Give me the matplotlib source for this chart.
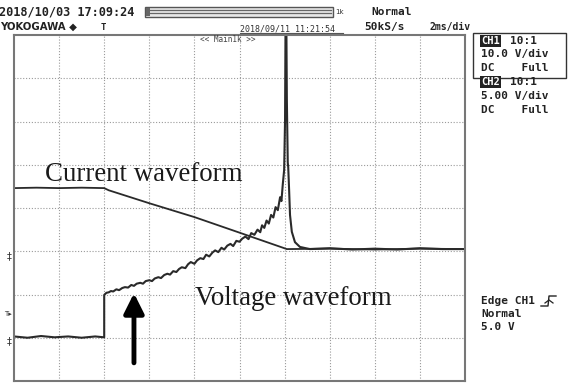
import numpy as np
import matplotlib
matplotlib.use('Agg')
import matplotlib.pyplot as plt
from matplotlib.patches import Rectangle

# ---- waveform data (x in divisions, y in divisions) ----
cur_x = [0.0, 0.5, 1.0, 1.5, 2.0, 2.1, 3.0, 4.0, 5.0, 6.05, 7.0, 8.0, 9.0, 10.0]
cur_y = [4.46, 4.47, 4.46, 4.47, 4.46, 4.41, 4.11, 3.79, 3.43, 3.05, 3.06, 3.04, 3.06, 3.05]

volt_x = [0.0, 0.3, 0.6, 0.9, 1.2, 1.5, 1.8, 2.0, 2.0, 2.05, 2.10, 2.15, 2.20, 2.27, 2.33,
          2.40, 2.46, 2.53, 2.60, 2.66, 2.72, 2.80, 2.86, 2.92, 3.00, 3.06, 3.12, 3.20,
          3.26, 3.33, 3.40, 3.46, 3.53, 3.60, 3.66, 3.72, 3.80, 3.86, 3.92, 4.00, 4.06,
          4.13, 4.20, 4.26, 4.33, 4.40, 4.46, 4.53, 4.60, 4.66, 4.73, 4.80, 4.86, 4.93,
          5.00, 5.06, 5.13, 5.20, 5.26, 5.33, 5.40, 5.46, 5.50, 5.55, 5.60, 5.65, 5.70,
          5.75, 5.80, 5.85, 5.90, 5.93, 5.96, 5.99, 6.01, 6.02, 6.04, 6.05, 6.07,
          6.08, 6.10, 6.12, 6.16, 6.23, 6.34, 6.56, 7.0, 7.5, 8.0, 8.5, 9.0, 9.5, 10.0]
volt_y = [1.03, 1.00, 1.04, 1.01, 1.03, 1.00, 1.03, 1.01, 1.99, 2.04, 2.05, 2.08, 2.07, 2.12, 2.10,
          2.15, 2.17, 2.16, 2.22, 2.20, 2.25, 2.27, 2.25, 2.31, 2.33, 2.31, 2.37, 2.40,
          2.38, 2.45, 2.48, 2.46, 2.54, 2.52, 2.59, 2.63, 2.61, 2.70, 2.75, 2.71, 2.79,
          2.84, 2.82, 2.92, 2.88, 2.97, 3.02, 2.98, 3.08, 3.04, 3.13, 3.17, 3.12, 3.24,
          3.22, 3.29, 3.34, 3.28, 3.42, 3.38, 3.50, 3.44, 3.60, 3.54, 3.71, 3.64, 3.84,
          3.78, 4.02, 3.95, 4.25, 4.16, 4.55, 4.88, 6.03, 8.10, 8.10, 6.50, 5.05,
          4.95, 4.42, 3.84, 3.45, 3.21, 3.10, 3.05, 3.07, 3.04, 3.06, 3.04, 3.07, 3.05, 3.05]

W, H = 574, 383
fig = plt.figure(figsize=(W / 100, H / 100), dpi=100)
fig.patch.set_facecolor('white')


def fx(x):
    return x / W


def fy(y):
    return 1 - y / H


# plot frame in pixels: left 14, right 465, top 35, bottom 381
ax = fig.add_axes([fx(14), fy(381), (465 - 14) / W, (381 - 35) / H])
ax.set_xlim(0, 10)
ax.set_ylim(0, 8)
ax.set_xticks(np.arange(1, 10))
ax.set_yticks(np.arange(1, 8))
ax.tick_params(length=0, labelbottom=False, labelleft=False)
ax.grid(True, color='#9a9a9a', linestyle=(0, (1, 1.6)), linewidth=0.8)
for s in ax.spines.values():
    s.set_color('#777777')
    s.set_linewidth(1.5)

ax.plot(cur_x, cur_y, color='#2a2a2a', lw=1.3)
ax.plot(volt_x, volt_y, color='#2a2a2a', lw=1.5)

fig.text(fx(45), fy(181), 'Current waveform', family='Liberation Serif',
         fontsize=19.4, color='#1a1a1a', va='baseline', ha='left')
fig.text(fx(195), fy(305), 'Voltage waveform', family='Liberation Serif',
         fontsize=19.4, color='#1a1a1a', va='baseline', ha='left')

ax.annotate('', xy=(2.66, 2.03), xytext=(2.66, 0.42),
            arrowprops=dict(arrowstyle='-|>,head_width=0.6,head_length=1.2',
                            lw=3.5, color='black', shrinkA=0, shrinkB=0))

mono = dict(family='DejaVu Sans Mono', weight='bold', color='#222222')

# header
fig.text(fx(-1), fy(12), '2018/10/03 17:09:24', fontsize=8.6, va='center', ha='left', **mono)
fig.text(fx(0), fy(27), 'YOKOGAWA \u25c6', fontsize=7.3, va='center', ha='left',
         family='DejaVu Sans', weight='bold', color='#222222')
fig.text(fx(101), fy(27), 'T', fontsize=6.5, va='center', ha='left', **mono)
fig.add_artist(Rectangle((fx(145), fy(17)), (333 - 145) / W, 10 / H, transform=fig.transFigure,
                         facecolor='#e8e8e8', edgecolor='#555555', lw=1.0))
for yy in (10, 13):
    fig.add_artist(plt.Line2D([fx(150), fx(331)], [fy(yy), fy(yy)], color='#666666', lw=0.9))
fig.add_artist(Rectangle((fx(146), fy(16)), 4 / W, 8 / H, transform=fig.transFigure,
                         facecolor='#666666', edgecolor='none'))
fig.text(fx(335), fy(12), '1k', fontsize=5, va='center', ha='left', family='DejaVu Sans', color='#333333')
fig.text(fx(371), fy(12), 'Normal', fontsize=8, va='center', ha='left', **mono)
fig.text(fx(364), fy(27), '50kS/s', fontsize=8, va='center', ha='left', **mono)
fig.text(fx(430), fy(27), '2ms/div', fontsize=7, va='center', ha='left', **mono)
fig.text(fx(240), fy(29), '2018/09/11 11:21:54', fontsize=6, va='center', ha='left',
         family='DejaVu Sans Mono', color='#333333')
fig.add_artist(plt.Line2D([fx(240), fx(343)], [fy(33), fy(33)], color='#555555', lw=0.8))
fig.text(fx(200), fy(40), '<< Main1k >>', fontsize=5.5, va='center', ha='left',
         family='DejaVu Sans Mono', color='#444444')

# left markers
fig.text(fx(9), fy(256), '\u2021', fontsize=7, va='center', ha='center', family='DejaVu Sans', color='#333333')
fig.text(fx(8), fy(314), 'T\u25b8', fontsize=5, va='center', ha='center', family='DejaVu Sans', color='#333333')
fig.text(fx(9), fy(341), '\u2021', fontsize=7, va='center', ha='center', family='DejaVu Sans', color='#333333')

# right panel
fig.add_artist(Rectangle((fx(473), fy(78)), (566 - 473) / W, 45 / H, transform=fig.transFigure,
                         facecolor='none', edgecolor='#333333', lw=1.0))
fig.text(fx(481), fy(41), 'CH1', fontsize=7.5, va='center', ha='left', family='DejaVu Sans Mono',
         weight='bold', color='white', bbox=dict(facecolor='#222222', edgecolor='none', pad=0.6))
fig.text(fx(510), fy(41), '10:1', fontsize=8, va='center', ha='left', **mono)
fig.text(fx(481), fy(54), '10.0 V/div', fontsize=8, va='center', ha='left', **mono)
fig.text(fx(481), fy(68), 'DC    Full', fontsize=8, va='center', ha='left', **mono)
fig.text(fx(481), fy(82), 'CH2', fontsize=7.5, va='center', ha='left', family='DejaVu Sans Mono',
         weight='bold', color='white', bbox=dict(facecolor='#222222', edgecolor='none', pad=0.6))
fig.text(fx(510), fy(82), '10:1', fontsize=8, va='center', ha='left', **mono)
fig.text(fx(481), fy(96), '5.00 V/div', fontsize=8, va='center', ha='left', **mono)
fig.text(fx(481), fy(110), 'DC    Full', fontsize=8, va='center', ha='left', **mono)

fig.text(fx(481), fy(301), 'Edge CH1', fontsize=8, va='center', ha='left', **mono)
# rising edge trigger symbol
fig.add_artist(plt.Line2D([fx(541), fx(548), fx(549), fx(556)],
                          [fy(306), fy(306), fy(296), fy(296)], color='#222222', lw=1.0))
fig.add_artist(plt.Line2D([fx(545), fx(549), fx(553)],
                          [fy(303), fy(300), fy(303)], color='#222222', lw=0.9))
fig.text(fx(481), fy(314), 'Normal', fontsize=8, va='center', ha='left', **mono)
fig.text(fx(481), fy(327), '5.0 V', fontsize=8, va='center', ha='left', **mono)

fig.savefig('out.png', dpi=100)
